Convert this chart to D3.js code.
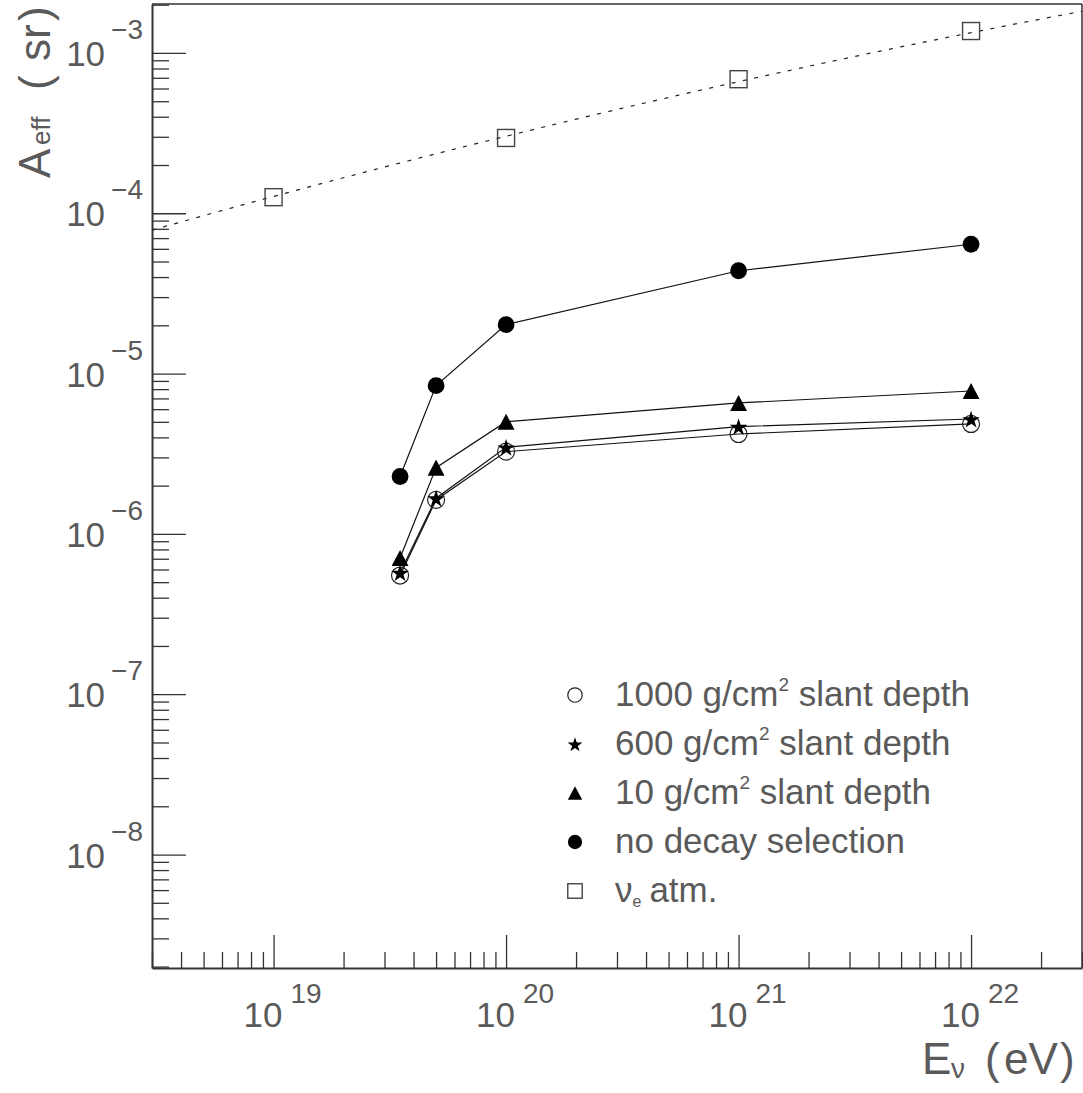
<!DOCTYPE html>
<html><head><meta charset="utf-8">
<script src="https://cdn.jsdelivr.net/npm/d3@7"></script>
<style>
body{margin:0;background:#fff}
svg{display:block}
text{font-family:"Liberation Sans",Arial,sans-serif;fill:#5a5a5a}
</style>
</head><body><svg id="c" width="1083" height="1093"></svg>
<script>
// ---------- data ----------
const energies = [3.5e19, 5e19, 1e20, 1e21, 1e22];          // E_nu (eV)
const slant1000 = [5.5e-7, 1.63e-6, 3.26e-6, 4.2e-6, 4.85e-6];
const slant600  = [5.73e-7, 1.67e-6, 3.47e-6, 4.67e-6, 5.21e-6];
const slant10   = [7.08e-7, 2.59e-6, 5.01e-6, 6.56e-6, 7.79e-6];
const noDecay   = [2.28e-6, 8.41e-6, 2.02e-5, 4.38e-5, 6.41e-5];
const atmEnergies = [1e19, 1e20, 1e21, 1e22];
const atmValues   = [1.26e-4, 2.95e-4, 6.86e-4, 1.37e-3];
// fit of nu_e atm: log10(A) = a + b*u + c*u^2, u = log10(E) - 19
const fitA = -3.895, fitB = 0.393, fitC = -0.0175;

const xMajorTicks = [1e19, 1e20, 1e21, 1e22];
const xTickExp = ["19", "20", "21", "22"];
const yMajorTicks = [1e-3, 1e-4, 1e-5, 1e-6, 1e-7, 1e-8];
const yTickExp = ["\u22123", "\u22124", "\u22125", "\u22126", "\u22127", "\u22128"];
const legendKeys = ["s1000", "s600", "s10", "nodecay", "atm"];

// ---------- setup ----------
const svg = d3.select("#c");
const L = 152, R = 1082, T = 4, B = 968;
const x = d3.scaleLog().domain([3e18, 3e22]).range([L, R]);
const y = d3.scaleLog().domain([1.96e-9, 2.02e-3]).range([B, T]);

function minorTicks(scale) {
  const [a, b] = scale.domain(); const out = [];
  for (let e = Math.floor(Math.log10(a)); e <= Math.ceil(Math.log10(b)); e++)
    for (let m = 2; m <= 9; m++) { const v = m * Math.pow(10, e); if (v >= a && v <= b) out.push(v); }
  return out;
}

const axisCol = "#333";
function styleAxis(g, keepDomain) {
  g.selectAll(".tick line").attr("stroke", axisCol).attr("stroke-width", 1.3);
  if (keepDomain) g.select(".domain").attr("stroke", axisCol).attr("stroke-width", 2);
  else g.select(".domain").remove();
}

// x axis
const gx = svg.append("g").attr("transform", `translate(0,${B})`);
gx.append("g").call(d3.axisBottom(x).tickValues(minorTicks(x)).tickSizeInner(-16).tickSizeOuter(0).tickFormat(""))
  .call(g => styleAxis(g, false));
gx.append("g").call(d3.axisBottom(x).tickValues(xMajorTicks).tickSizeInner(-33).tickSizeOuter(0).tickFormat(""))
  .call(g => styleAxis(g, true));

// y axis
const gy = svg.append("g").attr("transform", `translate(${L},0)`);
gy.append("g").call(d3.axisLeft(y).tickValues(minorTicks(y)).tickSizeInner(-17).tickSizeOuter(0).tickFormat(""))
  .call(g => styleAxis(g, false));
gy.append("g").call(d3.axisLeft(y).tickValues(yMajorTicks).tickSizeInner(-34).tickSizeOuter(0).tickFormat(""))
  .call(g => styleAxis(g, true));

// frame top and right
svg.append("line").attr("x1", L).attr("x2", R).attr("y1", T).attr("y2", T).attr("stroke", axisCol).attr("stroke-width", 1.5);
svg.append("line").attr("x1", R).attr("x2", R).attr("y1", T).attr("y2", B).attr("stroke", axisCol).attr("stroke-width", 1.5);

// x tick labels
xMajorTicks.forEach((v, i) => {
  const t = svg.append("text").attr("x", x(v) - 30).attr("y", 1027).attr("font-size", 35);
  t.append("tspan").text("10");
  t.append("tspan").attr("dx", 8).attr("dy", -24).attr("font-size", 28).text(xTickExp[i]);
});
// y tick labels
yMajorTicks.forEach((v, i) => {
  const t = svg.append("text").attr("x", 143).attr("y", y(v) + 13).attr("font-size", 35).attr("text-anchor", "end");
  t.append("tspan").text("10");
  t.append("tspan").attr("dx", 6).attr("dy", -27).attr("font-size", 28).text(yTickExp[i]);
});

// axis titles
const yt = svg.append("text").attr("transform", "translate(50,178) rotate(-90)").attr("font-size", 44);
yt.append("tspan").attr("x", 0).attr("y", 0).text("A");
yt.append("tspan").attr("x", 33).attr("y", 0).attr("font-size", 26).text("eff");
yt.append("tspan").attr("x", 88).attr("y", 0).text("(");
yt.append("tspan").attr("x", 117).attr("y", 0).text("sr");
yt.append("tspan").attr("x", 157).attr("y", 0).text(")");

const xt = svg.append("text").attr("font-size", 44);
xt.append("tspan").attr("x", 922).attr("y", 1074).text("E");
xt.append("tspan").attr("x", 951).attr("y", 1078).attr("font-size", 28).text("\u03bd");
xt.append("tspan").attr("x", 985).attr("y", 1074).text("(");
xt.append("tspan").attr("x", 1004).attr("y", 1074).text("eV");
xt.append("tspan").attr("x", 1060).attr("y", 1074).text(")");

// clip
svg.append("clipPath").attr("id", "plot").append("rect").attr("x", L).attr("y", T).attr("width", R - L).attr("height", B - T);
const plot = svg.append("g").attr("clip-path", "url(#plot)");

// fit curve
const logMin = Math.log10(x.domain()[0]), logMax = Math.log10(x.domain()[1]);
const fitPts = d3.range(0, 201).map(i => {
  const le = logMin + (logMax - logMin) * i / 200, u = le - 19;
  return [Math.pow(10, le), Math.pow(10, fitA + fitB * u + fitC * u * u)];
});
plot.append("path").attr("d", d3.line().x(d => x(d[0])).y(d => y(d[1]))(fitPts))
  .attr("fill", "none").attr("stroke", "#222").attr("stroke-width", 1.2).attr("stroke-dasharray", "4,7.5");

// series lines
const line = d3.line().x(d => x(d[0])).y(d => y(d[1]));
const series = [slant1000, slant600, slant10, noDecay];
series.forEach(s => {
  plot.append("path").attr("d", line(energies.map((e, i) => [e, s[i]])))
    .attr("fill", "none").attr("stroke", "#111").attr("stroke-width", 1.2);
});

// marker shapes
const triShape = { draw(ctx, size) { const w = Math.sqrt(size) * 1.05, h = w * 0.95; ctx.moveTo(0, -h / 2); ctx.lineTo(w / 2, h / 2); ctx.lineTo(-w / 2, h / 2); ctx.closePath(); } };
function drawMarker(g, key, cx, cy, scale) {
  const k = scale || 1;
  if (key === "s1000") {
    g.append("circle").attr("cx", cx).attr("cy", cy).attr("r", 8.5 * k).attr("fill", "none").attr("stroke", "#222").attr("stroke-width", 1.2);
  } else if (key === "s600") {
    g.append("path").attr("d", d3.symbol().type(d3.symbolStar).size(95 * k * k)()).attr("transform", `translate(${cx},${cy + 1})`).attr("fill", "#000");
  } else if (key === "s10") {
    g.append("path").attr("d", d3.symbol().type(triShape).size(260 * k * k)()).attr("transform", `translate(${cx},${cy})`).attr("fill", "#000");
  } else if (key === "nodecay") {
    g.append("circle").attr("cx", cx).attr("cy", cy).attr("r", 8.4 * k).attr("fill", "#000");
  } else if (key === "atm") {
    const s = 17 * k;
    g.append("rect").attr("x", cx - s / 2).attr("y", cy - s / 2).attr("width", s).attr("height", s).attr("fill", "none").attr("stroke", "#444").attr("stroke-width", 1.4);
  }
}

const mg = svg.append("g");
[["s1000", slant1000], ["s600", slant600], ["s10", slant10], ["nodecay", noDecay]].forEach(([k, s]) => {
  energies.forEach((e, i) => drawMarker(mg, k, x(e), y(s[i])));
});
atmEnergies.forEach((e, i) => drawMarker(mg, "atm", x(e), y(atmValues[i])));

// legend
const lg = svg.append("g");
const legY0 = 695, legStep = 49, legMX = 575, legTX = 615;
legendKeys.forEach((k, i) => {
  const cy = legY0 + i * legStep;
  drawMarker(lg, k, legMX, cy, 0.85);
  const t = lg.append("text").attr("x", legTX).attr("y", cy + 11).attr("font-size", 35);
  if (k === "nodecay") t.text("no decay selection");
  else if (k === "atm") {
    t.append("tspan").text("\u03bd");
    t.append("tspan").attr("dy", 5).attr("font-size", 16).text("e");
    t.append("tspan").attr("dy", -5).attr("dx", 8).text("atm.");
  } else {
    const num = k === "s1000" ? "1000" : k === "s600" ? "600" : "10";
    t.append("tspan").text(num + " g/cm");
    t.append("tspan").attr("dy", -15).attr("font-size", 19).text("2");
    t.append("tspan").attr("dy", 15).text(" slant depth");
  }
});
</script>
</body></html>
